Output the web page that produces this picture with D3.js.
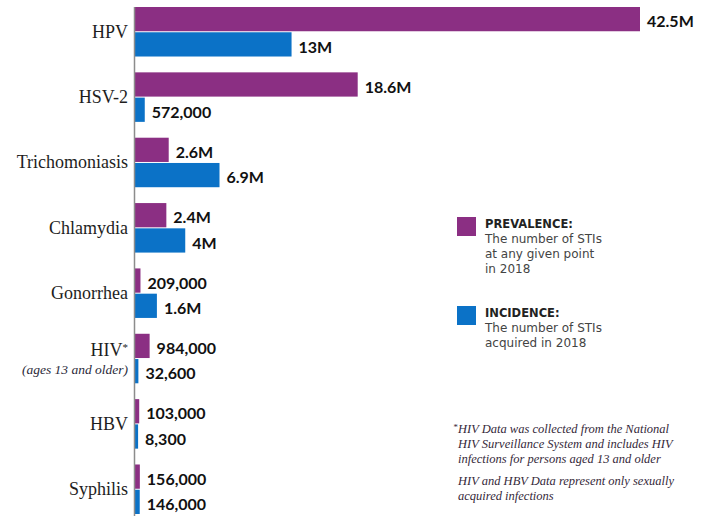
<!DOCTYPE html>
<html>
<head>
<meta charset="utf-8">
<script src="https://cdn.jsdelivr.net/npm/d3@7"></script>
<style>
  body { margin: 0; background: #fff; }
  svg { display: block; }
</style>
</head>
<body>
<svg width="709" height="516"></svg>
<script>
// data
const categories = ["HPV", "HSV-2", "Trichomoniasis", "Chlamydia", "Gonorrhea", "HIV*", "HBV", "Syphilis"];
const prevalence = [42500000, 18600000, 2600000, 2400000, 209000, 984000, 103000, 156000];
const incidence = [13000000, 572000, 6900000, 4000000, 1600000, 32600, 8300, 146000];
const seriesKeys = ["prevalence", "incidence"];
const seriesColors = ["#8b2f83", "#0b72c7"];
const categoryNotes = { "HIV*": "(ages 13 and older)" };

const legendTitles = ["PREVALENCE:", "INCIDENCE:"];
const legendLines = [
  ["The number of STIs", "at any given point", "in 2018"],
  ["The number of STIs", "acquired in 2018"]
];
const footnotes = [
  ["*HIV Data was collected from the National", "HIV Surveillance System and includes HIV", "infections for persons aged 13 and older"],
  ["HIV and HBV Data represent only sexually", "acquired infections"]
];

const svg = d3.select("svg");
const x0 = 135;

const x = d3.scaleLinear()
  .domain([0, d3.max(prevalence)])
  .range([3, 505]);

const y = d3.scaleBand()
  .domain(categories)
  .range([7, 514])
  .paddingInner(16 / 66)
  .paddingOuter(0);

const ySub = d3.scaleBand()
  .domain(seriesKeys)
  .range([0, y.bandwidth()])
  .paddingInner(0.04);

const color = d3.scaleOrdinal().domain(seriesKeys).range(seriesColors);

const fmt = function(v) {
  return v >= 1e6 ? d3.format("~g")(v / 1e6) + "M" : d3.format(",")(v);
};

let rows = categories.map(function(c, i) {
  return { cat: c, values: [
    { key: "prevalence", v: prevalence[i] },
    { key: "incidence", v: incidence[i] }
  ]};
});

// bars
const groups = svg.append("g")
  .selectAll("g")
  .data(rows)
  .enter().append("g")
    .attr("transform", function(d) { return "translate(" + x0 + "," + y(d.cat) + ")"; });

groups.selectAll("rect")
  .data(function(d) { return d.values; })
  .enter().append("rect")
    .attr("x", 0)
    .attr("y", function(d) { return ySub(d.key); })
    .attr("width", function(d) { return x(d.v); })
    .attr("height", ySub.bandwidth())
    .attr("fill", function(d) { return color(d.key); });

groups.selectAll("text")
  .data(function(d) { return d.values; })
  .enter().append("text")
    .attr("x", function(d) { return x(d.v) + 7; })
    .attr("y", function(d) { return ySub(d.key) + ySub.bandwidth() - 4; })
    .attr("font-family", "Lato, 'Open Sans', sans-serif")
    .attr("font-weight", 700)
    .attr("font-size", "16px")
    .attr("fill", "#111")
    .text(function(d) { return fmt(d.v); });

// axis line + category labels
const axis = svg.append("g")
  .attr("transform", "translate(" + (x0 - 1) + ",0)")
  .call(d3.axisLeft(y).tickSize(0).tickSizeOuter(0).tickPadding(6));

axis.select(".domain")
  .attr("stroke", "#8c8c8c")
  .attr("stroke-width", 1.5)
  .attr("d", "M0.5," + y.range()[0] + "V530");

axis.selectAll(".tick text")
  .attr("font-family", "'Liberation Serif', 'Times New Roman', serif")
  .attr("font-size", "18px")
  .attr("fill", "#1e1e1e")
  .each(function(d) {
    const t = d3.select(this);
    if (d.endsWith("*")) {
      t.text(d.slice(0, -1)).attr("dy", "-0.14em");
      t.append("tspan")
        .attr("font-size", "11px")
        .attr("dy", "-5")
        .text("*");
    }
    if (categoryNotes[d]) {
      d3.select(this.parentNode).append("text")
        .attr("x", -6)
        .attr("y", 15.5)
        .attr("text-anchor", "end")
        .attr("font-family", "'Liberation Serif', 'Times New Roman', serif")
        .attr("font-style", "italic")
        .attr("font-size", "13.5px")
        .attr("fill", "#2a2a3a")
        .text(categoryNotes[d]);
    }
  });

// legend
const legendTops = [217, 306];
const legend = svg.append("g")
  .selectAll("g")
  .data(seriesKeys)
  .enter().append("g")
    .attr("transform", function(d, i) { return "translate(457," + legendTops[i] + ")"; });

legend.append("rect")
  .attr("width", 19)
  .attr("height", 19)
  .attr("fill", function(d) { return color(d); });

legend.append("text")
  .attr("x", 28)
  .attr("y", 11)
  .attr("font-family", "'DejaVu Sans', sans-serif")
  .attr("font-weight", 700)
  .attr("font-size", "11.5px")
  .attr("fill", "#222")
  .text(function(d, i) { return legendTitles[i]; });

legend.each(function(d, i) {
  d3.select(this).selectAll(".desc")
    .data(legendLines[i])
    .enter().append("text")
      .attr("class", "desc")
      .attr("x", 28)
      .attr("y", function(l, j) { return 26 + j * 15; })
      .attr("font-family", "'DejaVu Sans', sans-serif")
      .attr("font-size", "12px")
      .attr("fill", "#444")
      .text(function(l) { return l; });
});

// footnotes
const noteTops = [433, 485];
footnotes.forEach(function(block, b) {
  svg.append("g")
    .selectAll("text")
    .data(block)
    .enter().append("text")
      .attr("x", 458)
      .attr("y", function(l, j) { return noteTops[b] + j * 15; })
      .attr("font-family", "'Liberation Serif', 'Times New Roman', serif")
      .attr("font-style", "italic")
      .attr("font-size", "12.5px")
      .attr("fill", "#35293a")
      .each(function(l) {
        const t = d3.select(this);
        if (l.startsWith("*")) {
          t.append("tspan").attr("x", 453).attr("font-size", "9px").attr("dy", "-3").text("*");
          t.append("tspan").attr("x", 458).attr("dy", "3").text(l.slice(1));
        } else {
          t.text(l);
        }
      });
});
</script>
</body>
</html>
